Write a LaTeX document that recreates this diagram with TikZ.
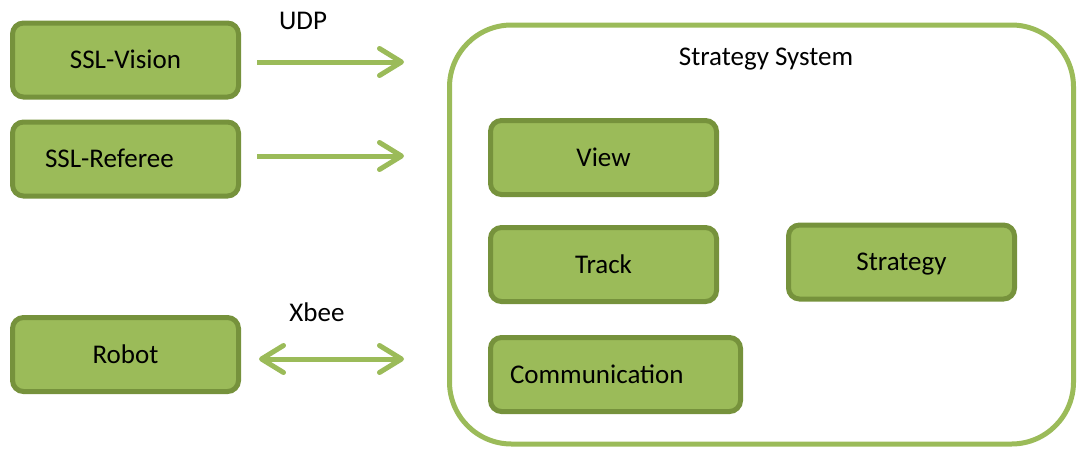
\documentclass[tikz,border=0pt]{standalone}
\usepackage[usenames, dvipsnames]{xcolor}
\usepackage{fontspec}
\setmainfont{Carlito}
\usetikzlibrary{arrows.meta}
\definecolor{boxgreen}{HTML}{9BBB59}
\definecolor{edgegreen}{HTML}{76923C}

\begin{document}
\begin{tikzpicture}[x=1pt, y=-1pt,
    font=\fontsize{27}{32}\selectfont,
    module/.style={draw=edgegreen, fill=boxgreen, line width=5pt, rounded corners=11pt,
        minimum width=226pt, minimum height=74pt, inner sep=0pt, text height=20pt, text depth=3pt},
    sysframe/.style={draw=boxgreen, line width=5pt, rounded corners=62pt,
        minimum width=624pt, minimum height=419pt, inner sep=0pt},
    link/.style={draw=boxgreen, line width=5pt, -{Straight Barb[length=22pt,width=27pt,round]}},
    duplex/.style={link, {Straight Barb[length=22pt,width=27pt,round]}-{Straight Barb[length=22pt,width=27pt,round]}}
  ]
    \useasboundingbox (0,0) rectangle (1078,448);

    \node[module] (vision) at (125.5,60) {SSL-Vision};
    \node[module, text width=161pt, inner xsep=32.5pt, align=left] (referee) at (125.5,159) {SSL-Referee};
    \node[module] (robot) at (125.5,354.5) {Robot};

    \node[sysframe] (system) at (761.5,234.5) {};
    \node (systitle) at (766,59) {Strategy System};
    \node[module] (view) at (603.5,157.5) {View};
    \node[module] (track) at (603.5,264.5) {Track};
    \node[module] (strategy) at (901.5,262) {Strategy};
    \node[module, minimum width=250pt, text width=211pt, inner xsep=19.5pt, align=left] (comm) at (615.5,374.5) {Communication};

    \coordinate (visionin) at (404,62);
    \coordinate (refereein) at (404,156);
    \coordinate (robotin) at (404,359);

    \draw[link] ([xshift=16pt]vision.east |- visionin) -- (visionin);
    \draw[link] ([xshift=16pt]referee.east |- refereein) -- (refereein);
    \draw[duplex] ([xshift=18pt]robot.east |- robotin) -- (robotin);

    \node (udp) at (303,21) {UDP};
    \node (xbee) at (317,312) {Xbee};
\end{tikzpicture}
\end{document}
